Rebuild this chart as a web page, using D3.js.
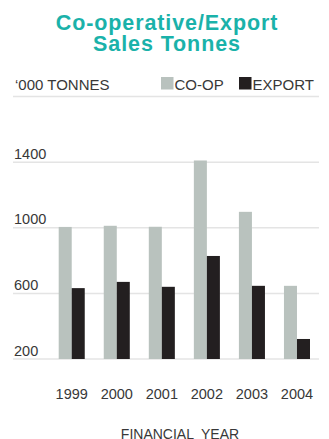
<!DOCTYPE html>
<html>
<head>
<meta charset="utf-8">
<script src="https://cdn.jsdelivr.net/npm/d3@7"></script>
<style>
  html, body { margin: 0; padding: 0; background: #fff; }
  svg { display: block; }
  text { font-family: "Liberation Sans", Arial, Helvetica, sans-serif; }
</style>
</head>
<body>
<div id="chart"></div>
<script>
const years = ["1999", "2000", "2001", "2002", "2003", "2004"];
const seriesNames = ["CO-OP", "EXPORT"];
const coop = [1005, 1012, 1006, 1410, 1097, 646];
const exportVals = [632, 670, 640, 828, 646, 322];
const gridTicks = [200, 600, 1000, 1400, 1800];
const labelTicks = [200, 600, 1000, 1400];
const titleLines = ["Co-operative/Export", "Sales Tonnes"];
const colors = ["#b9c2be", "#231f20"];

const W = 329, H = 439;
const svg = d3.select("#chart").append("svg").attr("width", W).attr("height", H);

const y = d3.scaleLinear().domain([200, 1800]).range([359, 96.5]);
const x = d3.scaleBand().domain(years).range([58.7, 310]).paddingInner(0.422).paddingOuter(0);
const xs = d3.scaleBand().domain(seriesNames).range([0, x.bandwidth()]);
const color = d3.scaleOrdinal().domain(seriesNames).range(colors);

// title
svg.append("g").selectAll("text").data(titleLines).join("text")
  .attr("x", 167).attr("y", (d, i) => 29.5 + i * 21)
  .attr("text-anchor", "middle")
  .attr("font-weight", "bold").attr("font-size", 21.5)
  .attr("letter-spacing", 0.9)
  .attr("fill", "#1ab2aa")
  .text(d => d);

// gridlines
const gridX0 = 13, gridX1 = 319;
svg.append("g").selectAll("line").data(gridTicks).join("line")
  .attr("x1", gridX0).attr("x2", gridX1)
  .attr("y1", d => y(d)).attr("y2", d => y(d))
  .attr("stroke", "#e4e4e4").attr("stroke-width", 1.5);

// y labels
svg.append("g").selectAll("text").data(labelTicks).join("text")
  .attr("x", 14).attr("y", d => y(d) - 3.5)
  .attr("font-size", 14.5).attr("fill", "#383838")
  .text(d => d);

// unit label
svg.append("text").attr("x", 15).attr("y", 89.5)
  .attr("font-size", 15).attr("fill", "#383838").text("\u2018000 TONNES");

// legend
const legX = [161, 239];
const lg = svg.append("g").selectAll("g").data(seriesNames).join("g")
  .attr("transform", (d, i) => `translate(${legX[i]},77)`);
lg.append("rect").attr("width", 12.5).attr("height", 12.5).attr("fill", d => color(d));
lg.append("text").attr("x", 13.5).attr("y", 12.5)
  .attr("font-size", 15).attr("fill", "#383838").text(d => d);

// bars
const data = years.map((yr, i) => ({ year: yr, values: [
  { key: "CO-OP", value: coop[i] }, { key: "EXPORT", value: exportVals[i] }] }));
const groups = svg.append("g").selectAll("g").data(data).join("g")
  .attr("transform", d => `translate(${x(d.year)},0)`);
groups.selectAll("rect").data(d => d.values).join("rect")
  .attr("x", d => xs(d.key)).attr("width", xs.bandwidth())
  .attr("y", d => y(d.value)).attr("height", d => y(200) - y(d.value))
  .attr("fill", d => color(d.key));

// x axis labels
svg.append("g").selectAll("text").data(years).join("text")
  .attr("x", d => x(d) + x.bandwidth() / 2).attr("y", 399)
  .attr("text-anchor", "middle").attr("font-size", 14.5).attr("fill", "#383838")
  .text(d => d);

svg.append("text").attr("x", 180).attr("y", 438.5)
  .attr("text-anchor", "middle").attr("font-size", 14).attr("fill", "#383838")
  .text("FINANCIAL  YEAR").style("white-space", "pre");
</script>
</body>
</html>
